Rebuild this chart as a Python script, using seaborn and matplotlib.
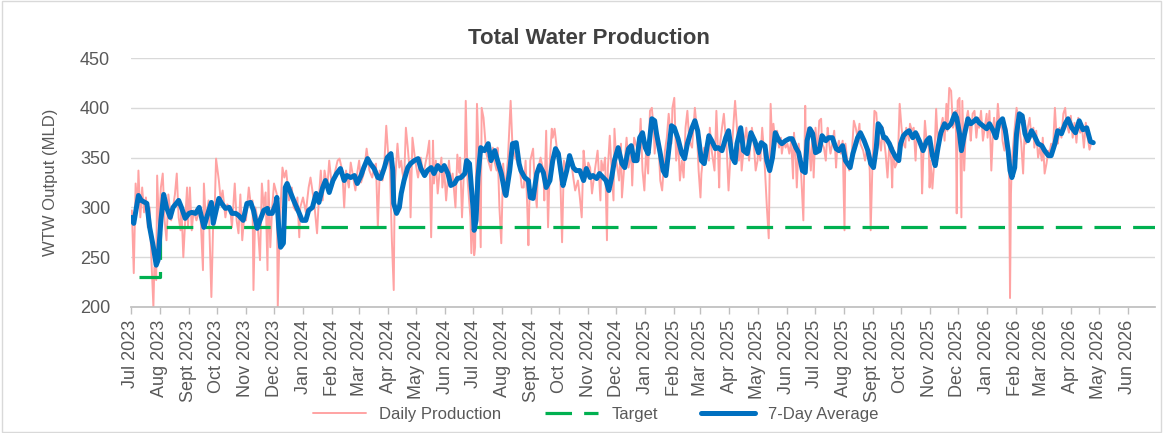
import pandas as pd
import matplotlib.pyplot as plt
import seaborn as sns
from matplotlib.patches import Rectangle

# day offsets counted from 1 Jul 2023, values in MLD
start = pd.Timestamp('2023-07-01')

daily_days = [1, 3, 5, 7, 8, 10, 12, 14, 16, 18, 20, 22, 24, 25, 27, 28, 30, 32, 34,
              36, 38, 40, 43, 47, 49, 51, 53, 54, 56, 58, 60, 61, 63, 65, 67, 70, 74, 77, 78,
              80, 83, 86, 88, 89, 91, 94, 96, 98, 101, 103, 106, 108, 111, 113, 115, 117, 119,
              121, 123, 126, 128, 130, 131, 133, 135, 138, 140, 142, 144, 146, 147, 149, 151,
              153, 156, 157, 159, 162, 164, 166, 169, 172, 174, 176, 178, 180, 181, 184, 187,
              190, 192, 196, 199, 201, 203, 205, 207, 210, 212, 215, 218, 221, 223, 226, 228,
              230, 233, 235, 237, 240, 242, 244, 246, 249, 252, 255, 258, 260, 262, 264, 266,
              269, 271, 273, 275, 277, 279, 281, 282, 285, 287, 289, 290, 292, 294, 296, 298,
              299, 301, 304, 307, 310, 312, 314, 317, 319, 321, 323, 324, 326, 328, 330, 332,
              333, 335, 337, 339, 340, 342, 344, 347, 349, 351, 352, 354, 356, 357, 358, 360,
              363, 364, 366, 367, 368, 370, 372, 374, 375, 377, 380, 382, 385, 387, 389, 391,
              392, 394, 396, 398, 400, 403, 406, 408, 411, 414, 416, 418, 420, 422, 424, 425,
              427, 430, 432, 434, 435, 438, 441, 442, 444, 446, 448, 450, 451, 453, 456, 459,
              461, 463, 466, 468, 471, 473, 475, 478, 480, 482, 484, 485, 487, 489, 491, 493,
              496, 499, 502, 503, 505, 507, 509, 510, 512, 514, 516, 517, 519, 522, 524, 525,
              528, 530, 532, 535, 536, 538, 541, 543, 545, 547, 549, 551, 553, 555, 557, 559,
              560, 562, 564, 566, 568, 569, 571, 573, 575, 578, 579, 581, 583, 585, 587, 589,
              591, 593, 595, 597, 600, 603, 605, 607, 609, 610, 613, 614, 616, 618, 619, 621,
              624, 626, 628, 629, 630, 632, 634, 636, 637, 639, 641, 643, 644, 646, 648, 650,
              652, 653, 656, 658, 661, 662, 664, 666, 668, 670, 671, 673, 675, 677, 678, 680,
              682, 684, 686, 687, 689, 691, 693, 695, 696, 698, 700, 702, 704, 706, 708, 709,
              711, 712, 714, 716, 719, 721, 722, 724, 727, 729, 730, 732, 734, 736, 738, 739,
              741, 743, 745, 746, 748, 750, 752, 754, 755, 757, 759, 761, 763, 764, 766, 768,
              771, 773, 775, 777, 779, 780, 783, 785, 787, 789, 790, 791, 793, 795, 797, 798,
              800, 802, 804, 805, 807, 809, 811, 813, 814, 815, 817, 820, 822, 824, 826, 828,
              829, 832, 833, 835, 837, 839, 840, 842, 845, 846, 847, 849, 851, 853, 854, 855,
              857, 859, 861, 863, 864, 866, 868, 870, 872, 873, 875, 877, 879, 881, 882, 883,
              884, 886, 888, 889, 891, 893, 895, 897, 898, 900, 902, 904, 906, 907, 909, 911,
              913, 915, 916, 918, 920, 922, 923, 925, 927, 929, 931, 932, 934, 936, 938, 939,
              940, 941, 942, 945, 947, 949, 950, 952, 954, 956, 957, 959, 961, 963, 965, 966,
              968, 970, 972, 974, 975, 977, 979, 981, 982, 984, 986, 988, 990, 991, 993, 995,
              997, 999, 1000, 1003, 1005, 1007, 1009, 1011, 1013, 1015, 1017, 1019, 1021, 1023,
              1025, 1027]
daily_vals = [297, 234, 324, 300, 337, 290, 320, 295, 310, 280, 300, 245, 200, 240, 227, 332,
              280, 320, 334, 287, 267, 313, 287, 313, 334, 290, 277, 300, 250, 287, 320, 280,
              320, 277, 297, 287, 300, 237, 324, 287, 307, 210, 287, 280, 349, 327, 307, 317,
              290, 303, 300, 280, 324, 287, 274, 313, 267, 290, 287, 320, 304, 307, 217, 300,
              290, 247, 324, 300, 315, 237, 327, 260, 300, 324, 313, 200, 280, 340, 330, 337,
              307, 320, 300, 297, 310, 270, 300, 310, 295, 320, 330, 304, 274, 310, 337, 307,
              337, 320, 347, 320, 335, 347, 349, 337, 300, 337, 320, 345, 334, 317, 335, 347,
              325, 334, 359, 337, 330, 340, 344, 280, 337, 327, 345, 382, 354, 337, 267, 217,
              320, 364, 340, 347, 337, 325, 380, 360, 337, 290, 370, 347, 330, 350, 335, 340,
              354, 367, 270, 367, 324, 347, 314, 335, 350, 320, 337, 307, 330, 347, 325, 334,
              300, 353, 335, 350, 290, 335, 347, 407, 327, 290, 254, 300, 252, 260, 404, 347,
              260, 400, 390, 354, 347, 337, 360, 345, 337, 360, 300, 264, 344, 317, 347, 407,
              360, 350, 344, 337, 320, 320, 347, 294, 262, 347, 359, 320, 300, 337, 350, 337,
              307, 377, 280, 347, 379, 370, 379, 354, 334, 265, 347, 337, 350, 344, 330, 317,
              327, 310, 290, 357, 347, 330, 345, 340, 314, 337, 357, 307, 347, 337, 350, 267,
              340, 372, 337, 307, 379, 347, 327, 364, 310, 347, 370, 340, 354, 322, 370, 360,
              347, 389, 337, 317, 360, 334, 397, 400, 377, 354, 380, 367, 327, 317, 330, 357,
              370, 394, 364, 400, 410, 347, 370, 327, 347, 330, 380, 397, 367, 360, 400, 380,
              337, 310, 334, 360, 354, 364, 347, 380, 357, 337, 397, 350, 320, 364, 380, 394,
              370, 360, 317, 350, 364, 380, 407, 380, 347, 364, 337, 367, 380, 347, 360, 380,
              364, 337, 347, 364, 347, 380, 354, 337, 300, 269, 404, 357, 384, 364, 377, 360,
              370, 354, 367, 360, 364, 354, 367, 329, 375, 347, 320, 364, 347, 287, 402, 347,
              380, 337, 377, 330, 380, 354, 387, 389, 364, 360, 347, 380, 370, 354, 364, 377,
              340, 357, 367, 354, 367, 277, 364, 347, 337, 357, 387, 380, 370, 384, 364, 357,
              347, 360, 350, 337, 277, 347, 397, 395, 380, 370, 357, 380, 370, 354, 330, 364,
              347, 320, 360, 340, 347, 404, 380, 364, 360, 380, 367, 384, 377, 380, 347, 367,
              374, 357, 314, 344, 387, 364, 367, 320, 347, 319, 347, 399, 360, 370, 380, 390,
              367, 404, 377, 420, 417, 380, 387, 397, 294, 407, 410, 290, 407, 337, 387, 397,
              380, 367, 394, 397, 370, 390, 380, 397, 367, 380, 394, 370, 397, 337, 380, 390,
              370, 404, 380, 387, 367, 357, 380, 367, 344, 209, 314, 347, 380, 400, 387, 380,
              364, 334, 387, 364, 380, 390, 370, 380, 360, 377, 350, 360, 347, 370, 334, 344,
              357, 354, 364, 360, 400, 367, 364, 380, 370, 394, 400, 387, 375, 392, 370, 385,
              365, 390, 375, 380, 360, 385, 370, 358, 365]

avg_days = [0, 3, 8, 11, 17, 20, 24, 27, 29, 32, 35, 38, 42, 45, 51, 54, 58, 62, 65, 69,
            73, 78, 81, 86, 88, 94, 97, 101, 105, 108, 112, 115, 120, 124, 128, 131, 135, 138,
            142, 146, 147, 151, 155, 156, 158, 160, 163, 165, 167, 171, 174, 180, 183, 187,
            190, 194, 198, 201, 205, 208, 212, 216, 220, 224, 228, 231, 235, 239, 242, 246,
            249, 253, 256, 260, 264, 267, 271, 274, 278, 280, 281, 284, 287, 289, 292, 296,
            299, 303, 307, 310, 314, 317, 321, 324, 328, 332, 335, 339, 342, 346, 349, 353,
            357, 359, 362, 364, 366, 367, 369, 371, 374, 378, 382, 385, 389, 392, 396, 400,
            401, 405, 408, 412, 415, 417, 421, 425, 427, 430, 434, 437, 441, 444, 448, 451,
            454, 457, 460, 462, 466, 469, 473, 476, 480, 484, 487, 491, 494, 498, 501, 505,
            508, 511, 514, 517, 521, 525, 528, 532, 535, 538, 541, 544, 547, 550, 553, 557,
            560, 562, 566, 569, 572, 575, 578, 581, 585, 589, 592, 595, 600, 603, 606, 610,
            613, 618, 621, 625, 628, 632, 636, 639, 643, 646, 648, 652, 655, 659, 663, 667,
            671, 674, 678, 680, 683, 686, 689, 693, 696, 700, 704, 707, 711, 714, 718, 721,
            723, 726, 729, 732, 736, 739, 743, 746, 750, 754, 757, 761, 764, 769, 772, 777,
            780, 784, 788, 791, 794, 797, 799, 802, 805, 807, 811, 814, 818, 821, 823, 826,
            829, 832, 836, 839, 843, 847, 851, 854, 857, 860, 863, 866, 870, 873, 877, 881,
            883, 886, 888, 891, 895, 898, 902, 904, 907, 911, 915, 918, 922, 925, 928, 932,
            935, 938, 940, 942, 945, 947, 950, 953, 956, 959, 963, 966, 970, 974, 977, 981,
            984, 988, 991, 995, 999, 1002, 1006, 1010, 1014, 1018, 1022, 1026, 1029]
avg_vals = [290, 284, 312, 307, 304, 280, 260, 242, 247, 287, 313, 300, 290, 300, 307, 300,
            289, 294, 295, 294, 300, 280, 290, 305, 284, 309, 304, 299, 300, 294, 294, 292,
            287, 304, 305, 297, 279, 287, 297, 299, 294, 294, 304, 310, 280, 260, 264, 320,
            324, 314, 307, 294, 287, 287, 297, 300, 314, 305, 320, 327, 315, 327, 334, 339,
            327, 332, 330, 332, 324, 332, 340, 349, 344, 339, 330, 329, 340, 350, 354, 337,
            304, 294, 300, 314, 327, 340, 344, 347, 349, 339, 332, 337, 340, 334, 342, 337,
            342, 334, 322, 324, 329, 330, 334, 347, 344, 320, 297, 277, 287, 330, 360, 357,
            364, 347, 357, 347, 334, 314, 312, 337, 364, 365, 344, 337, 330, 327, 310, 309,
            334, 342, 335, 320, 327, 347, 359, 354, 334, 322, 337, 352, 340, 337, 337, 327,
            339, 330, 332, 329, 334, 330, 327, 317, 330, 347, 360, 344, 340, 359, 362, 347,
            347, 370, 375, 360, 354, 389, 387, 374, 354, 337, 332, 357, 382, 380, 369, 354,
            349, 364, 380, 387, 377, 347, 344, 372, 367, 359, 360, 357, 370, 377, 350, 345,
            364, 380, 357, 354, 375, 367, 355, 365, 362, 347, 337, 350, 375, 367, 364, 367,
            369, 369, 360, 355, 337, 335, 367, 379, 374, 355, 357, 372, 367, 370, 370, 359,
            357, 362, 347, 340, 354, 370, 375, 367, 357, 344, 340, 360, 384, 380, 370, 370,
            364, 357, 350, 347, 364, 372, 375, 377, 370, 375, 367, 357, 367, 370, 352, 342,
            360, 375, 384, 380, 384, 394, 390, 374, 357, 372, 389, 384, 387, 389, 385, 382,
            379, 384, 377, 370, 385, 389, 377, 357, 337, 330, 340, 374, 394, 392, 374, 367,
            377, 372, 364, 362, 357, 352, 352, 364, 377, 374, 384, 389, 380, 375, 387, 378,
            380, 366, 365]

target_days = [9, 31, 31, 1095]
target_vals = [230, 230, 280, 280]

month_names = ['Jan', 'Feb', 'Mar', 'Apr', 'May', 'Jun', 'Jul', 'Aug', 'Sept', 'Oct', 'Nov', 'Dec']


def to_frame(days, vals):
    return pd.DataFrame({'date': start + pd.to_timedelta(days, unit='D'), 'mld': vals})


daily = to_frame(daily_days, daily_vals)
avg = to_frame(avg_days, avg_vals)
target = to_frame(target_days, target_vals)

sns.set_theme(style='white')
plt.rcParams['font.family'] = ['Liberation Sans', 'DejaVu Sans']

fig = plt.figure(figsize=(11.63, 4.33), dpi=100)
ax = fig.add_axes([0.1126, 0.291, 0.8805, 0.575])

sns.lineplot(data=daily, x='date', y='mld', ax=ax, color='#ffa3a3', linewidth=1.4,
             estimator=None, label='Daily Production')
sns.lineplot(data=target, x='date', y='mld', ax=ax, color='#00b050', linewidth=2.3,
             estimator=None, label='Target', dashes=False)
ax.lines[-1].set_dashes((8.3, 3.8))
sns.lineplot(data=avg, x='date', y='mld', ax=ax, color='#0070c0', linewidth=3.6,
             estimator=None, label='7-Day Average')

# axes
ax.set_ylim(200, 450)
ax.set_yticks(range(200, 451, 50))
ax.set_xlim(pd.Timestamp('2023-07-01'), pd.Timestamp('2026-06-30'))
ticks = pd.date_range('2023-07-01', '2026-06-01', freq='MS')
ax.set_xticks(ticks)
ax.set_xticklabels([f'{month_names[t.month - 1]} {t.year}' for t in ticks],
                   rotation=90, fontsize=13, color='#595959')
ax.tick_params(axis='x', length=5, width=1, color='#bfbfbf', pad=4, direction='out',
               bottom=True)
ax.tick_params(axis='y', length=0, pad=15, labelsize=13, labelcolor='#595959')
ax.grid(axis='y', color='#d9d9d9', linewidth=1)
ax.set_axisbelow(True)
for s in ['top', 'right', 'left']:
    ax.spines[s].set_visible(False)
ax.spines['bottom'].set_color('#bfbfbf')
ax.set_xlabel('')
ax.set_ylabel('WTW Output (MLD)', fontsize=12, color='#595959', labelpad=16)

fig.text(0.506, 0.912, 'Total Water Production', ha='center', va='center',
         fontsize=16, fontweight='bold', color='#404040')

# legend
handles, labels = ax.get_legend_handles_labels()
ax.get_legend().remove()
fig.legend(handles, labels, loc='center', bbox_to_anchor=(0.512, 0.043), ncol=3,
           frameon=False, fontsize=12, handlelength=3.2, columnspacing=2.6,
           labelcolor='#595959')

# chart border
fig.patches.append(Rectangle((0.002, 0.003), 0.996, 0.994, transform=fig.transFigure,
                             fill=False, edgecolor='#d9d9d9', linewidth=1))

plt.savefig('out.png', dpi=100)
